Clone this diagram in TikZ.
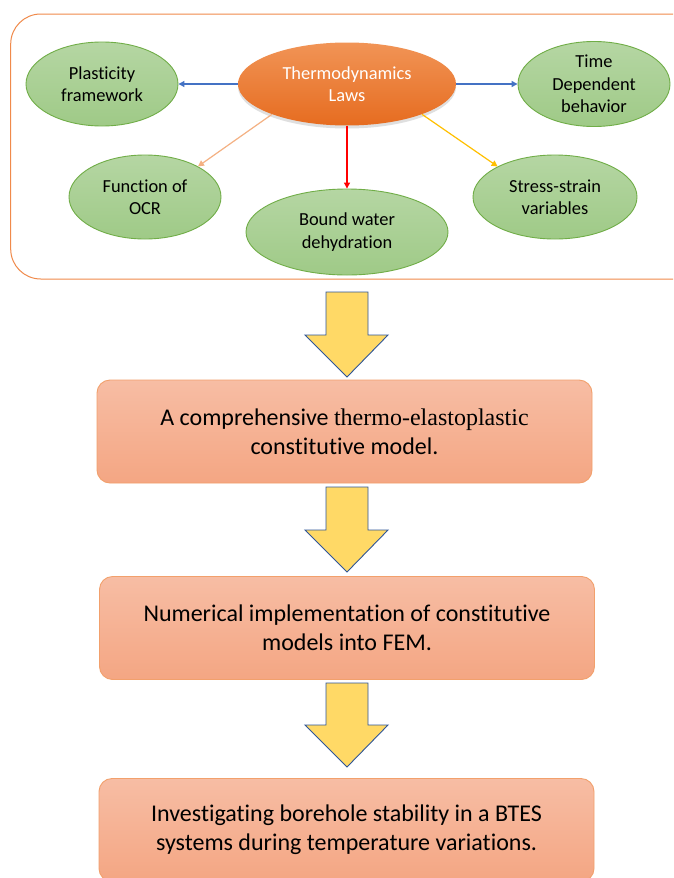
\documentclass[tikz,border=0pt]{standalone}
\usepackage{fontspec}
\setmainfont{Carlito}[Ligatures=NoCommon]
\newfontfamily\timesf{Liberation Serif}
\usetikzlibrary{shapes.geometric,arrows.meta,shadows}
\definecolor{greenTop}{HTML}{B5D6A3}
\definecolor{greenBot}{HTML}{9FCA87}
\definecolor{greenBorder}{HTML}{70AD47}
\definecolor{orangeTop}{HTML}{F19456}
\definecolor{orangeBot}{HTML}{E66C20}
\definecolor{boxTop}{HTML}{F7BDA4}
\definecolor{boxBot}{HTML}{F4A683}
\definecolor{boxBorder}{HTML}{F2A06C}
\definecolor{outerBorder}{HTML}{F08A4B}
\definecolor{arBlue}{HTML}{4472C4}
\definecolor{arPeach}{HTML}{F4B183}
\definecolor{arRed}{HTML}{FF0000}
\definecolor{arGold}{HTML}{FFC000}
\definecolor{blockFill}{HTML}{FFD966}
\definecolor{blockBorder}{HTML}{2F5597}
\begin{document}
\begin{tikzpicture}[x=1pt,y=-1pt,
  greenell/.style={ellipse, draw=greenBorder, line width=0.9pt, top color=greenTop, bottom color=greenBot,
    inner sep=0pt, align=center, font=\fontsize{18.4}{22.5}\selectfont, text=black},
  thermoell/.style={ellipse, top color=orangeTop, bottom color=orangeBot, draw=none,
    inner sep=0pt, align=center, font=\fontsize{18.4}{22.5}\selectfont, text=white,
    drop shadow={opacity=0.25, shadow xshift=0pt, shadow yshift=-3pt}},
  stagebox/.style={rectangle, rounded corners=13pt, draw=boxBorder, line width=0.9pt,
    top color=boxTop, bottom color=boxBot, inner sep=0pt, align=center,
    minimum width=495pt, minimum height=103pt, font=\fontsize{24}{29}\selectfont, text=black},
  link/.style={line width=1.2pt, -{Triangle[length=6pt,width=6pt]}},
  blockarrow/.style={fill=blockFill, draw=blockBorder, line width=0.9pt, line join=miter}
]
\clip (0,0) rectangle (673,878);
\fill[white] (0,0) rectangle (673,878);

% outer frame
\draw[outerBorder, line width=1pt, rounded corners=30pt] (10.7,14) rectangle (705,279);

% ellipses
\node[thermoell, minimum width=218pt, minimum height=83pt] (thermo) at (347,84) {Thermodynamics\\Laws};
\node[greenell, minimum width=152pt, minimum height=84pt] (plast) at (102,84) {Plasticity\\framework};
\node[greenell, minimum width=152pt, minimum height=85pt] (time) at (594,84) {Time\\Dependent\\behavior};
\node[greenell, minimum width=152pt, minimum height=84pt] (ocr) at (145,197) {Function of\\OCR};
\node[greenell, minimum width=202pt, minimum height=86pt] (bound) at (347,232) {Bound water\\dehydration};
\node[greenell, minimum width=164pt, minimum height=84pt] (stress) at (555,197) {Stress-strain\\variables};

% connectors
\draw[link, arBlue] (thermo.west) -- (plast.east);
\draw[link, arBlue] (thermo.east) -- (time.west);
\draw[link, arPeach] (thermo.202) -- (ocr.30);
\draw[link, arRed] (thermo.south) -- (bound.north);
\draw[link, arGold] (thermo.338) -- (stress.152);

% stage boxes
\node[stagebox] (box1) at (344.5,431.5) {A comprehensive {\timesf thermo-elastoplastic}\\constitutive model.};
\node[stagebox] (box2) at (347,628) {Numerical implementation of constitutive\\models into FEM.};
\node[stagebox] (box3) at (346.5,830) {Investigating borehole stability in a BTES\\systems during temperature variations.};

% block arrows
\draw[blockarrow] (326,292) -- (368,292) -- (368,335) -- (388,335) -- (347,377) -- (305,335) -- (326,335) -- cycle;
\draw[blockarrow] (326,487) -- (368,487) -- (368,530) -- (388,530) -- (347,572) -- (305,530) -- (326,530) -- cycle;
\draw[blockarrow] (326,683) -- (368,683) -- (368,725) -- (388,725) -- (347,767) -- (305,725) -- (326,725) -- cycle;
\end{tikzpicture}
\end{document}
